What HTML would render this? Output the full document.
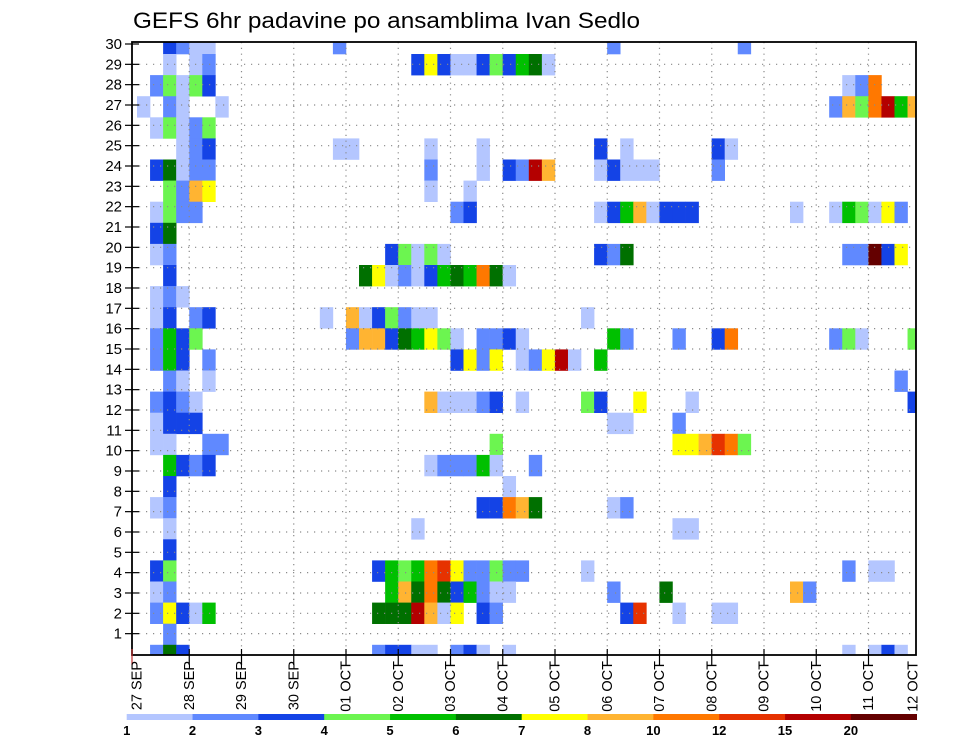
<!DOCTYPE html>
<html>
<head>
<meta charset="utf-8">
<style>
  html,body{margin:0;padding:0;background:#fff;}
  svg{display:block;font-family:"Liberation Sans",sans-serif;}
</style>
</head>
<body>
<svg id="chart" width="960" height="742" viewBox="0 0 960 742" xmlns="http://www.w3.org/2000/svg">
  <text x="133" y="28" font-size="22" textLength="507" lengthAdjust="spacingAndGlyphs" fill="#000">GEFS 6hr padavine po ansamblima Ivan Sedlo</text>
  <defs><clipPath id="plotclip"><rect x="132" y="42" width="784" height="613"/></clipPath></defs>
  <g id="cells" clip-path="url(#plotclip)"></g>
  <g id="grid"></g>
  <g id="axes"></g>
  <g id="legend"></g>
</svg>
<script>
// ---- data ----
const dateLabels = ['27 SEP','28 SEP','29 SEP','30 SEP','01 OCT','02 OCT','03 OCT','04 OCT','05 OCT','06 OCT','07 OCT','08 OCT','09 OCT','10 OCT','11 OCT','12 OCT'];
const yTickLabels = [1,2,3,4,5,6,7,8,9,10,11,12,13,14,15,16,17,18,19,20,21,22,23,24,25,26,27,28,29,30];
const levels = [1,2,3,4,5,6,7,8,10,12,15,20];
const levelColors = ['#b4c6ff','#6089ff','#1443e6','#6cf550','#00c000','#007000','#ffff00','#ffb432','#ff7800','#e63200','#b40000','#640000'];
// rows listed top (row index 0) to bottom; each entry [timeStep, precip mm]
const row00 = [[2,3.5],[3,2.5],[4,1.5],[5,1.5],[15,2.5],[36,2.5],[46,2.5]];
const row01 = [[2,1.5],[4,1.5],[5,2.5],[21,3.5],[22,7.5],[23,3.5],[24,1.5],[25,1.5],[26,3.5],[27,4.5],[28,3.5],[29,5.5],[30,6.5],[31,1.5]];
const row02 = [[1,2.5],[2,4.5],[3,1.5],[4,4.5],[5,3.5],[54,1.5],[55,2.5],[56,11]];
const row03 = [[0,1.5],[2,2.5],[3,1.5],[6,1.5],[53,2.5],[54,9],[55,4.5],[56,11],[57,17],[58,5.5],[59,9]];
const row04 = [[1,1.5],[2,4.5],[3,1.5],[4,2.5],[5,4.5]];
const row05 = [[3,1.5],[4,2.5],[5,3.5],[15,1.5],[16,1.5],[22,1.5],[26,1.5],[35,3.5],[37,1.5],[44,3.5],[45,1.5]];
const row06 = [[1,3.5],[2,6.5],[3,1.5],[4,2.5],[5,2.5],[22,2.5],[26,1.5],[28,3.5],[29,2.5],[30,17],[31,9],[35,1.5],[36,3.5],[37,1.5],[38,1.5],[39,1.5],[44,2.5]];
const row07 = [[2,4.5],[3,2.5],[4,9],[5,7.5],[22,1.5],[25,1.5]];
const row08 = [[1,1.5],[2,4.5],[3,2.5],[4,2.5],[24,2.5],[25,3.5],[35,1.5],[36,3.5],[37,5.5],[38,9],[39,1.5],[40,3.5],[41,3.5],[42,3.5],[50,1.5],[53,1.5],[54,5.5],[55,4.5],[56,1.5],[57,7.5],[58,2.5]];
const row09 = [[1,3.5],[2,6.5]];
const row10 = [[1,1.5],[2,2.5],[19,3.5],[20,4.5],[21,1.5],[22,4.5],[23,1.5],[35,3.5],[36,2.5],[37,6.5],[54,2.5],[55,2.5],[56,25],[57,3.5],[58,7.5]];
const row11 = [[2,3.5],[17,6.5],[18,7.5],[19,1.5],[20,2.5],[21,1.5],[22,3.5],[23,5.5],[24,6.5],[25,5.5],[26,11],[27,6.5],[28,1.5]];
const row12 = [[1,1.5],[2,2.5],[3,1.5]];
const row13 = [[1,1.5],[2,3.5],[4,2.5],[5,3.5],[14,1.5],[16,9],[17,1.5],[18,3.5],[19,4.5],[20,2.5],[21,1.5],[22,1.5],[34,1.5]];
const row14 = [[1,2.5],[2,5.5],[3,3.5],[4,4.5],[16,2.5],[17,9],[18,9],[19,3.5],[20,6.5],[21,5.5],[22,7.5],[23,4.5],[24,1.5],[26,2.5],[27,2.5],[28,3.5],[29,1.5],[36,5.5],[37,2.5],[41,2.5],[44,3.5],[45,11],[53,2.5],[54,4.5],[55,1.5],[59,4.5]];
const row15 = [[1,2.5],[2,5.5],[3,3.5],[5,2.5],[24,3.5],[25,7.5],[26,2.5],[27,7.5],[29,1.5],[30,2.5],[31,7.5],[32,17],[33,1.5],[35,5.5]];
const row16 = [[2,2.5],[3,1.5],[5,1.5],[58,2.5]];
const row17 = [[1,2.5],[2,3.5],[3,2.5],[4,1.5],[22,9],[23,1.5],[24,1.5],[25,1.5],[26,2.5],[27,3.5],[29,1.5],[34,4.5],[35,3.5],[38,7.5],[42,1.5],[59,3.5]];
const row18 = [[1,1.5],[2,3.5],[3,3.5],[4,3.5],[36,1.5],[37,1.5],[41,2.5]];
const row19 = [[1,1.5],[2,1.5],[5,2.5],[6,2.5],[27,4.5],[41,7.5],[42,7.5],[43,9],[44,13.5],[45,11],[46,4.5]];
const row20 = [[2,5.5],[3,3.5],[4,2.5],[5,3.5],[22,1.5],[23,2.5],[24,2.5],[25,2.5],[26,5.5],[27,1.5],[30,2.5]];
const row21 = [[2,3.5],[28,1.5]];
const row22 = [[1,1.5],[2,2.5],[26,3.5],[27,3.5],[28,11],[29,9],[30,6.5],[36,1.5],[37,2.5]];
const row23 = [[2,1.5],[21,1.5],[41,1.5],[42,1.5]];
const row24 = [[2,3.5]];
const row25 = [[1,3.5],[2,4.5],[18,3.5],[19,5.5],[20,4.5],[21,5.5],[22,11],[23,13.5],[24,7.5],[25,2.5],[26,2.5],[27,4.5],[28,2.5],[29,2.5],[34,1.5],[54,2.5],[56,1.5],[57,1.5]];
const row26 = [[1,1.5],[2,2.5],[19,5.5],[20,9],[21,6.5],[22,11],[23,6.5],[24,3.5],[25,5.5],[26,2.5],[27,1.5],[28,1.5],[36,2.5],[40,6.5],[50,9],[51,2.5]];
const row27 = [[1,2.5],[2,7.5],[3,3.5],[4,1.5],[5,5.5],[18,6.5],[19,6.5],[20,6.5],[21,17],[22,9],[23,1.5],[24,7.5],[26,3.5],[27,2.5],[37,3.5],[38,13.5],[41,1.5],[44,1.5],[45,1.5]];
const row28 = [[2,2.5]];
const row29 = [[1,2.5],[2,6.5],[3,3.5],[18,2.5],[19,3.5],[20,3.5],[21,1.5],[22,1.5],[24,2.5],[25,3.5],[26,1.5],[28,1.5],[54,1.5],[56,1.5],[57,3.5],[58,1.5]];
const rows = [row00,row01,row02,row03,row04,row05,row06,row07,row08,row09,row10,row11,row12,row13,row14,row15,row16,row17,row18,row19,row20,row21,row22,row23,row24,row25,row26,row27,row28,row29];

// ---- scales ----
const NS='http://www.w3.org/2000/svg';
const PL=132, PR=916, PT=42, PB=655;
const CELL_X0=137, CELL_W=13.06, DAY_W=52.25;
const CELL_Y0=54, CELL_H=21.1;
function xCell(step){return CELL_X0+step*CELL_W;}
function yRowTop(j){return CELL_Y0+(j-1)*CELL_H;}
function xDay(d){return CELL_X0+d*DAY_W;}
function yTick(v){return 44+(30-v)*20.333;}
function colorFor(v){let c=null;for(let k=0;k<levels.length;k++){if(v>=levels[k])c=levelColors[k];}return c;}
function mk(tag,attrs,parent){const e=document.createElementNS(NS,tag);for(const k in attrs)e.setAttribute(k,attrs[k]);parent.appendChild(e);return e;}

// ---- cells ----
const gCells=document.getElementById('cells');
rows.forEach((row,j)=>{
  row.forEach(([step,val])=>{
    const col=colorFor(val); if(!col) return;
    const r=mk('rect',{x:xCell(step),y:yRowTop(j),width:CELL_W+0.3,height:CELL_H+0.3,fill:col},gCells);
    
    
  });
});

// ---- grid ----
const gGrid=document.getElementById('grid');
for(let d=1;d<15;d++){
  const l=mk('line',{x1:xDay(d),x2:xDay(d),y1:PT,y2:PB,stroke:'#8a8a8a','stroke-width':1.2,'stroke-dasharray':'1.2 4.6'},gGrid);
  
  
}
for(let v=1;v<30;v++){
  const l=mk('line',{x1:PL,x2:PR,y1:yTick(v),y2:yTick(v),stroke:'#8a8a8a','stroke-width':1.2,'stroke-dasharray':'1.2 5.8'},gGrid);
  
  
}

// ---- axes ----
const gAx=document.getElementById('axes');
const frame=mk('rect',{x:PL,y:PT,width:PR-PL,height:PB-PT,fill:'none',stroke:'#000','stroke-width':1.8},gAx);


yTickLabels.forEach(v=>{
  const y=yTick(v);
  const t=mk('line',{x1:125,x2:139,y1:y,y2:y,stroke:'#000','stroke-width':1.2},gAx);
  
  
  const tx=mk('text',{x:122,y:y+5,'font-size':15,'text-anchor':'end',fill:'#000'},gAx);
  tx.textContent=String(v);
  
  
});
dateLabels.forEach((lab,d)=>{
  const x=d===0?PL:xDay(d);
  if(x<=PR+1){
    const t=mk('line',{x1:x,x2:x,y1:PB-6,y2:PB+10,stroke:d===0?'#c03030':'#000','stroke-width':1.2},gAx);
    
    
  }
  const cx=Math.min(xDay(d),913)-1;
  const tx=mk('text',{x:0,y:0,'font-size':14.5,'text-anchor':'end',fill:'#000',transform:'translate('+(cx+5.5)+',661) rotate(-90)'},gAx);
  tx.textContent=lab;
  
  
});

// ---- legend ----
const gLeg=document.getElementById('legend');
const LX0=126.7, LW=(916.7-126.7)/levels.length;
levelColors.forEach((c,k)=>{
  const r=mk('rect',{x:LX0+k*LW,y:714,width:LW+0.3,height:6,fill:c},gLeg);
  
  
});
levels.forEach((v,k)=>{
  const t=mk('text',{x:LX0+k*LW,y:735,'font-size':13,'font-weight':'bold','text-anchor':'middle',fill:'#000'},gLeg);
  t.textContent=String(v);
  
  
});
</script>
</body>
</html>
